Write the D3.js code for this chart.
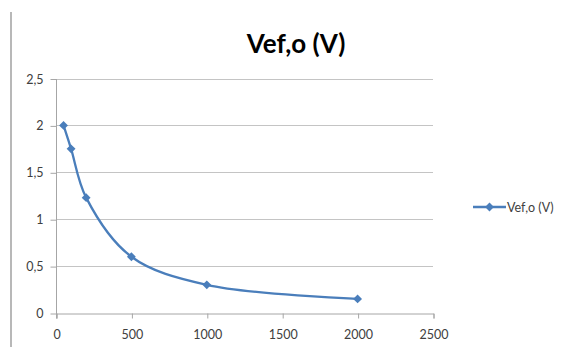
<!DOCTYPE html>
<style>
    body { margin: 0; background: #fff; }
    text { font-family: Lato, "Open Sans", sans-serif; }
</style>
<body>
<script src="https://d3js.org/d3.v7.min.js"></script>
<script>
    var title = "Vef,o (V)";
    var seriesName = "Vef,o (V)";
    var xValues = [50, 100, 200, 500, 1000, 2000];
    var yValues = [2, 1.75, 1.23, 0.6, 0.3, 0.15];
    var xTicks = [0, 500, 1000, 1500, 2000, 2500];
    var yTicks = [0, 0.5, 1, 1.5, 2, 2.5];

    var width = 576, height = 347;
    var blue = "#4a7ebb";
    var fmt = function(d) { return String(d).replace(".", ","); };

    var svg = d3.select("body").append("svg")
        .attr("width", width)
        .attr("height", height);

    // chart frame edge on the left
    svg.append("line")
        .attr("x1", 11).attr("x2", 11)
        .attr("y1", 12).attr("y2", height)
        .attr("stroke", "#b8b8b8")
        .attr("stroke-width", 2);

    var x = d3.scaleLinear().domain([0, 2500]).range([56, 433]);
    var y = d3.scaleLinear().domain([0, 2.5]).range([313, 78.5]);

    // gridlines
    svg.append("g")
        .selectAll("line")
        .data(yTicks.slice(1))
        .enter().append("line")
        .attr("x1", x(0)).attr("x2", x(2500))
        .attr("y1", function(d) { return Math.round(y(d)) + 0.5; })
        .attr("y2", function(d) { return Math.round(y(d)) + 0.5; })
        .attr("stroke", "#c4c4c4");

    var yAxis = svg.append("g")
        .attr("transform", "translate(" + (x(0) + 0.5) + ",0.5)")
        .call(d3.axisLeft(y).tickValues(yTicks).tickFormat(fmt).tickSize(6).tickPadding(7));

    var xAxis = svg.append("g")
        .attr("transform", "translate(0.5," + (Math.round(y(0)) + 0.5) + ")")
        .call(d3.axisBottom(x).tickValues(xTicks).tickFormat(function(d) { return d; }).tickSize(5).tickPadding(12));

    [yAxis, xAxis].forEach(function(a) {
        a.select(".domain").attr("stroke", "#a6a6a6");
        a.selectAll(".tick line").attr("stroke", "#a6a6a6");
        a.selectAll(".tick text")
            .attr("fill", "#404040")
            .style("font-size", "12.5px");
    });
    yAxis.select(".domain").attr("d", "M0," + y(2.5) + "V" + (y(0) + 5));

    // title
    svg.append("text")
        .attr("x", 296)
        .attr("y", 53)
        .attr("text-anchor", "middle")
        .attr("font-weight", "bold")
        .attr("fill", "#000")
        .style("font-size", "26px")
        .text(title);

    var data = xValues.map(function(d, i) { return [d, yValues[i]]; });

    var line = d3.line()
        .x(function(d) { return x(d[0]); })
        .y(function(d) { return y(d[1]); })
        .curve(d3.curveCatmullRom.alpha(0.5));

    svg.append("path")
        .datum(data)
        .attr("fill", "none")
        .attr("stroke", blue)
        .attr("stroke-width", 2.3)
        .attr("d", line);

    var diamond = d3.symbol().type(d3.symbolDiamond2).size(50);

    svg.append("g")
        .selectAll("path")
        .data(data)
        .enter().append("path")
        .attr("transform", function(d) { return "translate(" + x(d[0]) + "," + y(d[1]) + ")"; })
        .attr("d", diamond)
        .attr("fill", blue);

    // legend
    var lg = svg.append("g").attr("transform", "translate(473,207)");
    lg.append("line")
        .attr("x1", 0).attr("x2", 33)
        .attr("stroke", blue)
        .attr("stroke-width", 2.3);
    lg.append("path")
        .attr("transform", "translate(16.5,0)")
        .attr("d", diamond)
        .attr("fill", blue);
    lg.append("text")
        .attr("x", 34)
        .attr("y", 4.5)
        .attr("fill", "#404040")
        .style("font-size", "12.5px")
        .text(seriesName);
</script>
</body>
